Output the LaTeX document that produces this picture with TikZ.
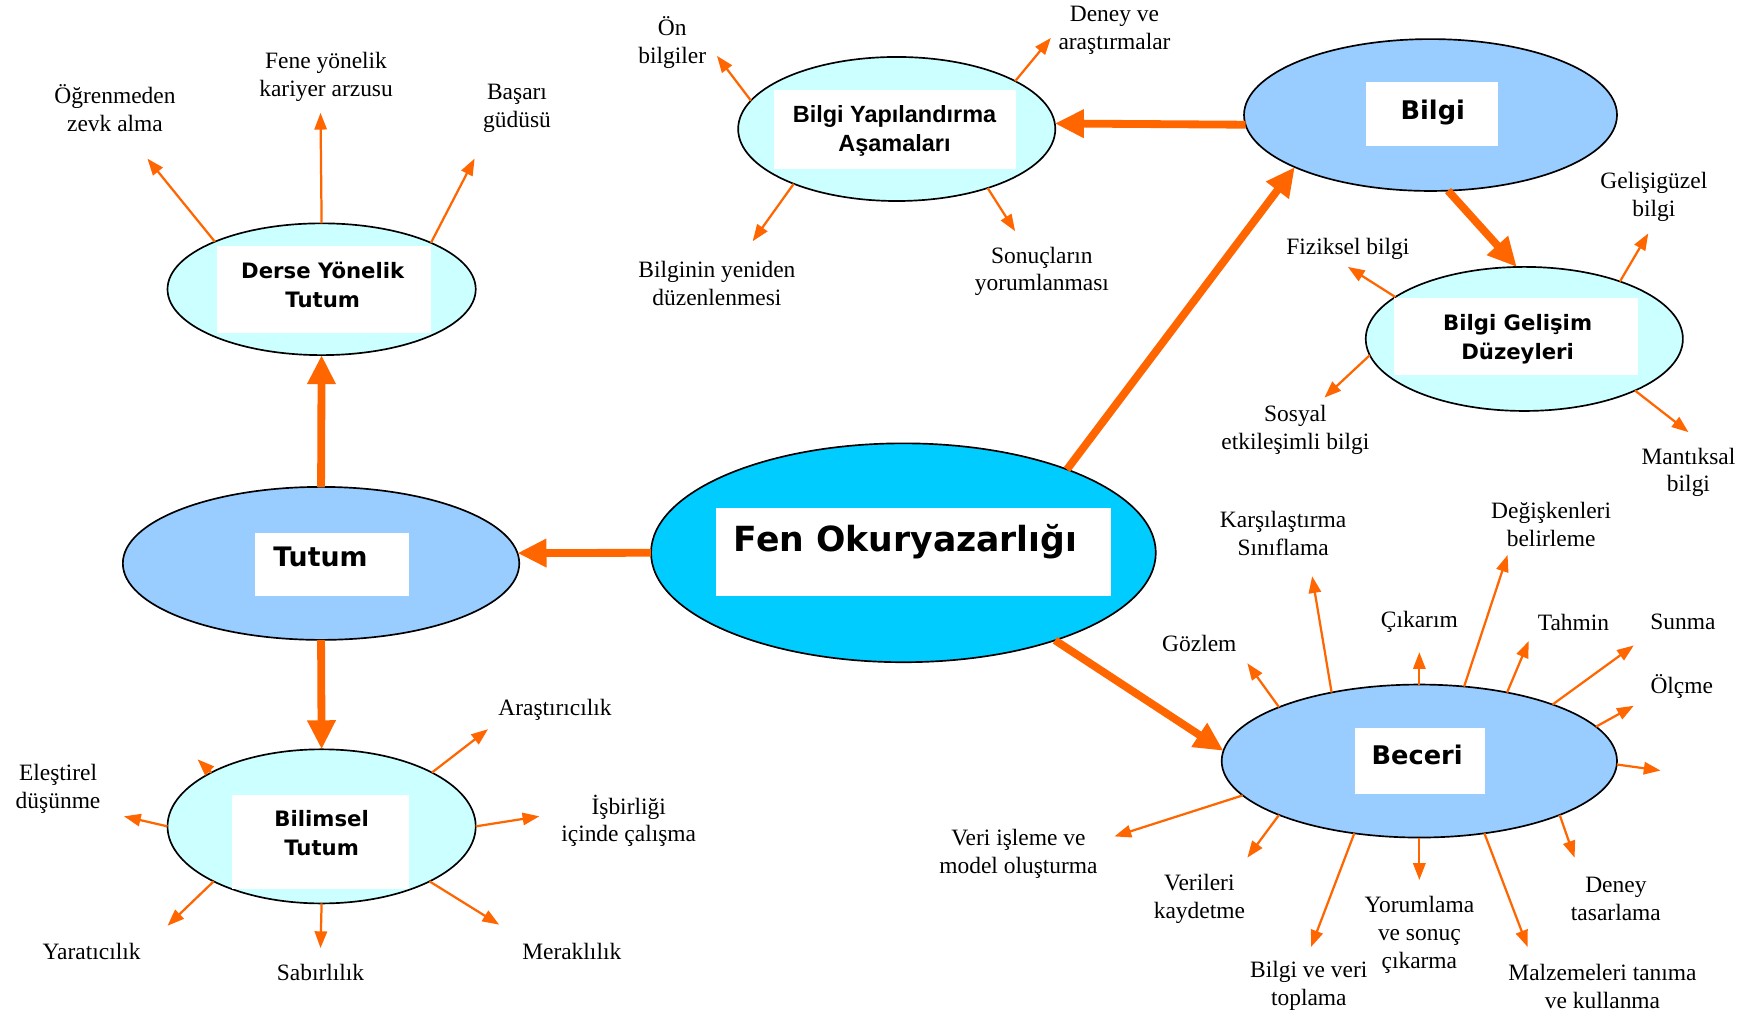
\documentclass[tikz,border=0pt]{standalone}
\usepackage{fontspec}
\setmainfont{Liberation Serif}
\newfontfamily\titlefont{DejaVu Sans}
\newfontfamily\arialfont{Liberation Sans}
\usetikzlibrary{arrows.meta,shapes.geometric}

\definecolor{hub}{HTML}{00CCFF}
\definecolor{mainblue}{HTML}{99CCFF}
\definecolor{subcyan}{HTML}{CCFFFF}
\definecolor{linkorange}{HTML}{FF6600}

\tikzset{
  concept/.style={ellipse, draw=black, line width=1.5pt, inner sep=0pt, outer sep=0pt},
  thicklink/.style={draw=linkorange, line width=7pt, -{Triangle[length=26pt,width=24pt]}},
  thinlink/.style={draw=linkorange, line width=2pt, -{Triangle[length=15pt,width=11pt]}},
  lbl/.style={font=\fontsize{21}{25}\selectfont, align=center, inner sep=0pt, yshift=-2pt},
  ttlbig/.style={font=\titlefont\bfseries\fontsize{31}{36}\selectfont, inner sep=0pt, anchor=base},
  ttlmid/.style={font=\titlefont\bfseries\fontsize{23}{28}\selectfont, inner sep=0pt, anchor=base},
  ttlsmall/.style={font=\titlefont\bfseries\fontsize{19}{26}\selectfont, align=center, inner sep=0pt, anchor=base},
  ttlarial/.style={font=\arialfont\bfseries\fontsize{21}{26}\selectfont, align=center, inner sep=0pt, anchor=base},
}

\begin{document}
\begin{tikzpicture}[x=1pt,y=-1pt]
\useasboundingbox (0,0) rectangle (1568,908);
\fill[white] (0,0) rectangle (1568,908);

% ---- concept ellipses ----
\node[concept, fill=hub,      minimum width=452pt, minimum height=196pt] (fen)      at (809,495)    {};
\node[concept, fill=mainblue, minimum width=355pt, minimum height=137pt] (tutum)    at (287.5,504.5) {};
\node[concept, fill=subcyan,  minimum width=276pt, minimum height=118pt] (derse)    at (288,259)    {};
\node[concept, fill=subcyan,  minimum width=276pt, minimum height=138pt] (bilimsel) at (288,740)    {};
\node[concept, fill=subcyan,  minimum width=284pt, minimum height=129pt] (byap)     at (803,115.5)  {};
\node[concept, fill=mainblue, minimum width=334pt, minimum height=136pt] (bilgi)    at (1281,103)   {};
\node[concept, fill=subcyan,  minimum width=284pt, minimum height=129pt] (gelisim)  at (1365,303.5) {};
\node[concept, fill=mainblue, minimum width=354pt, minimum height=137pt] (beceri)   at (1271,681.5) {};

% ---- white title panels ----
\fill[white] (641,455) rectangle (995,534);
\fill[white] (228,477) rectangle (366,534);
\fill[white] (194,220) rectangle (386,298);
\fill[white] (208,712) rectangle (366,796);
\fill[white] (693,81) rectangle (910,151);
\fill[white] (1223,73) rectangle (1341,131);
\fill[white] (1248,267) rectangle (1467,336);
\fill[white] (1213,652) rectangle (1330,711);

% ---- titles (base anchor = baseline of the last line) ----
\node[ttlbig]   (t-fen)      at (811,494)  {Fen Okuryazarlığı};
\node[ttlmid, font=\titlefont\bfseries\fontsize{24}{28}\selectfont] (t-tutum) at (287,507) {Tutum};
\node[ttlmid]   (t-bilgi)    at (1283,107) {Bilgi};
\node[ttlmid]   (t-beceri)   at (1269,685) {Beceri};
\node[ttlsmall] (t-derse)    at (289,275)  {Derse Yönelik\\Tutum};
\node[ttlsmall] (t-bilimsel) at (288,766)  {Bilimsel\\Tutum};
\node[ttlsmall] (t-gelisim)  at (1359,322) {Bilgi Gelişim\\Düzeyleri};
\node[ttlarial] (t-byap)     at (801,136)  {Bilgi Yapılandırma\\Aşamaları};

% ---- main links ----
\draw[thicklink] (fen.180) -- (tutum.3);
\draw[thicklink] (tutum.north) -- (derse.south);
\draw[thicklink] (tutum.south) -- (bilimsel.north);
\draw[thicklink] (fen.27) -- (bilgi.201);
\draw[thicklink] (bilgi.183) -- (byap.2);
\draw[thicklink] (bilgi.283) -- (gelisim.96);
\draw[thicklink] (fen.330) -- (beceri.177);

% ---- Derse Yönelik Tutum ----
\coordinate (a-zevk) at (132,142);
\coordinate (a-kariyer) at (287,101);
\coordinate (a-basari) at (425,142);
\draw[thinlink] (derse.156) -- (a-zevk);
\draw[thinlink] (derse.90) -- (a-kariyer);
\draw[thinlink] (derse.23) -- (a-basari);
\node[lbl] (l-zevk) at (103,95) {Öğrenmeden\\zevk alma};
\node[lbl] (l-kariyer) at (292,67) {Fene yönelik\\kariyer arzusu};
\node[lbl] (l-basari) at (463,95) {Başarı\\güdüsü};

% ---- Bilgi Yapılandırma Aşamaları ----
\coordinate (a-on) at (642,50);
\coordinate (a-deney) at (941,34);
\coordinate (a-yeniden) at (674,216);
\coordinate (a-sonuc) at (909,207);
\draw[thinlink] (byap.169) -- (a-on);
\draw[thinlink] (byap.22) -- (a-deney);
\draw[thinlink] (byap.208) -- (a-yeniden);
\draw[thinlink] (byap.327) -- (a-sonuc);
\node[lbl] (l-on) at (602,36) {Ön\\bilgiler};
\node[lbl] (l-deney) at (998,25) {Deney ve\\araştırmalar};
\node[lbl] (l-yeniden) at (642,252) {Bilginin yeniden\\düzenlenmesi};
\node[lbl] (l-sonuc) at (933,241) {Sonuçların\\yorumlanması};

% ---- Bilgi Gelişim Düzeyleri ----
\coordinate (a-fiziksel) at (1207,239);
\coordinate (a-gelisig) at (1476,209);
\coordinate (a-sosyal) at (1186,356);
\coordinate (a-mantik) at (1512,387);
\draw[thinlink] (gelisim.162) -- (a-fiziksel);
\draw[thinlink] (gelisim.31) -- (a-gelisig);
\draw[thinlink] (gelisim.186) -- (a-sosyal);
\draw[thinlink] (gelisim.335) -- (a-mantik);
\node[lbl] (l-fiziksel) at (1207,221) {Fiziksel bilgi};
\node[lbl] (l-gelisig) at (1481,174) {Gelişigüzel\\bilgi};
\node[lbl] (l-sosyal) at (1160,383) {Sosyal\\etkileşimli bilgi};
\node[lbl] (l-mantik) at (1512,421) {Mantıksal\\bilgi};

% ---- Bilimsel Tutum ----
\coordinate (a-arastir) at (437,653);
\coordinate (a-isbirligi) at (483,731);
\coordinate (a-merak) at (447,828);
\coordinate (a-sabir) at (287,849);
\coordinate (a-yarat) at (150,829);
\coordinate (a-elestir) at (111,731);
\coordinate (a-kisa) at (177,680);
\draw[thinlink] (bilimsel.26) -- (a-arastir);
\draw[thinlink] (bilimsel.0) -- (a-isbirligi);
\draw[thinlink] (bilimsel.333) -- (a-merak);
\draw[thinlink] (bilimsel.270) -- (a-sabir);
\draw[thinlink] (bilimsel.207) -- (a-yarat);
\draw[thinlink] (bilimsel.180) -- (a-elestir);
\draw[thinlink] (bilimsel.154) -- (a-kisa);
\node[lbl] (l-arastir) at (497,634) {Araştırıcılık};
\node[lbl] (l-isbirligi) at (563,733) {İşbirliği\\içinde çalışma};
\node[lbl] (l-merak) at (512,850) {Meraklılık};
\node[lbl] (l-sabir) at (287,869) {Sabırlılık};
\node[lbl] (l-yarat) at (82,850) {Yaratıcılık};
\node[lbl] (l-elestir) at (52,704) {Eleştirel\\düşünme};

% ---- Beceri ----
\coordinate (a-gozlem) at (1117,594);
\coordinate (a-karsi) at (1175,516);
\coordinate (a-cikarim) at (1271,584);
\coordinate (a-degisken) at (1350,497);
\coordinate (a-tahmin) at (1369,574);
\coordinate (a-sunma) at (1463,578);
\coordinate (a-olcme) at (1463,632);
\coordinate (a-sag) at (1487,690);
\coordinate (a-tasarla) at (1410,768);
\coordinate (a-malzeme) at (1368,848);
\coordinate (a-yorum) at (1271,788);
\coordinate (a-toplama) at (1174,848);
\coordinate (a-kayit) at (1117,768);
\coordinate (a-model) at (998,749);
\draw[thinlink] (beceri.159) -- (a-gozlem);
\draw[thinlink] (beceri.142) -- (a-karsi);
\draw[thinlink] (beceri.90) -- (a-cikarim);
\draw[thinlink] (beceri.59) -- (a-degisken);
\draw[thinlink] (beceri.38) -- (a-tahmin);
\draw[thinlink] (beceri.23) -- (a-sunma);
\draw[thinlink] (beceri.11) -- (a-olcme);
\draw[thinlink] (beceri.359) -- (a-sag);
\draw[thinlink] (beceri.339) -- (a-tasarla);
\draw[thinlink] (beceri.312) -- (a-malzeme);
\draw[thinlink] (beceri.270) -- (a-yorum);
\draw[thinlink] (beceri.228) -- (a-toplama);
\draw[thinlink] (beceri.201) -- (a-kayit);
\draw[thinlink] (beceri.191) -- (a-model);
\node[lbl] (l-gozlem) at (1074,574) {Gözlem};
\node[lbl] (l-karsi) at (1149,476) {Karşılaştırma\\Sınıflama};
\node[lbl] (l-cikarim) at (1271,555) {Çıkarım};
\node[lbl] (l-degisken) at (1389,468) {Değişkenleri\\belirleme};
\node[lbl] (l-tahmin) at (1409,555) {Tahmin};
\node[lbl] (l-sunma) at (1507,555) {Sunma};
\node[lbl] (l-olcme) at (1506,613) {Ölçme};
\node[lbl] (l-tasarla) at (1447,803) {Deney\\tasarlama};
\node[lbl] (l-malzeme) at (1435,881) {Malzemeleri tanıma\\ve kullanma};
\node[lbl] (l-yorum) at (1271,835) {Yorumlama\\ve sonuç\\çıkarma};
\node[lbl] (l-toplama) at (1172,881) {Bilgi ve veri\\toplama};
\node[lbl] (l-kayit) at (1074,803) {Verileri\\kaydetme};
\node[lbl] (l-model) at (912,763) {Veri işleme ve\\model oluşturma};
\end{tikzpicture}
\end{document}
